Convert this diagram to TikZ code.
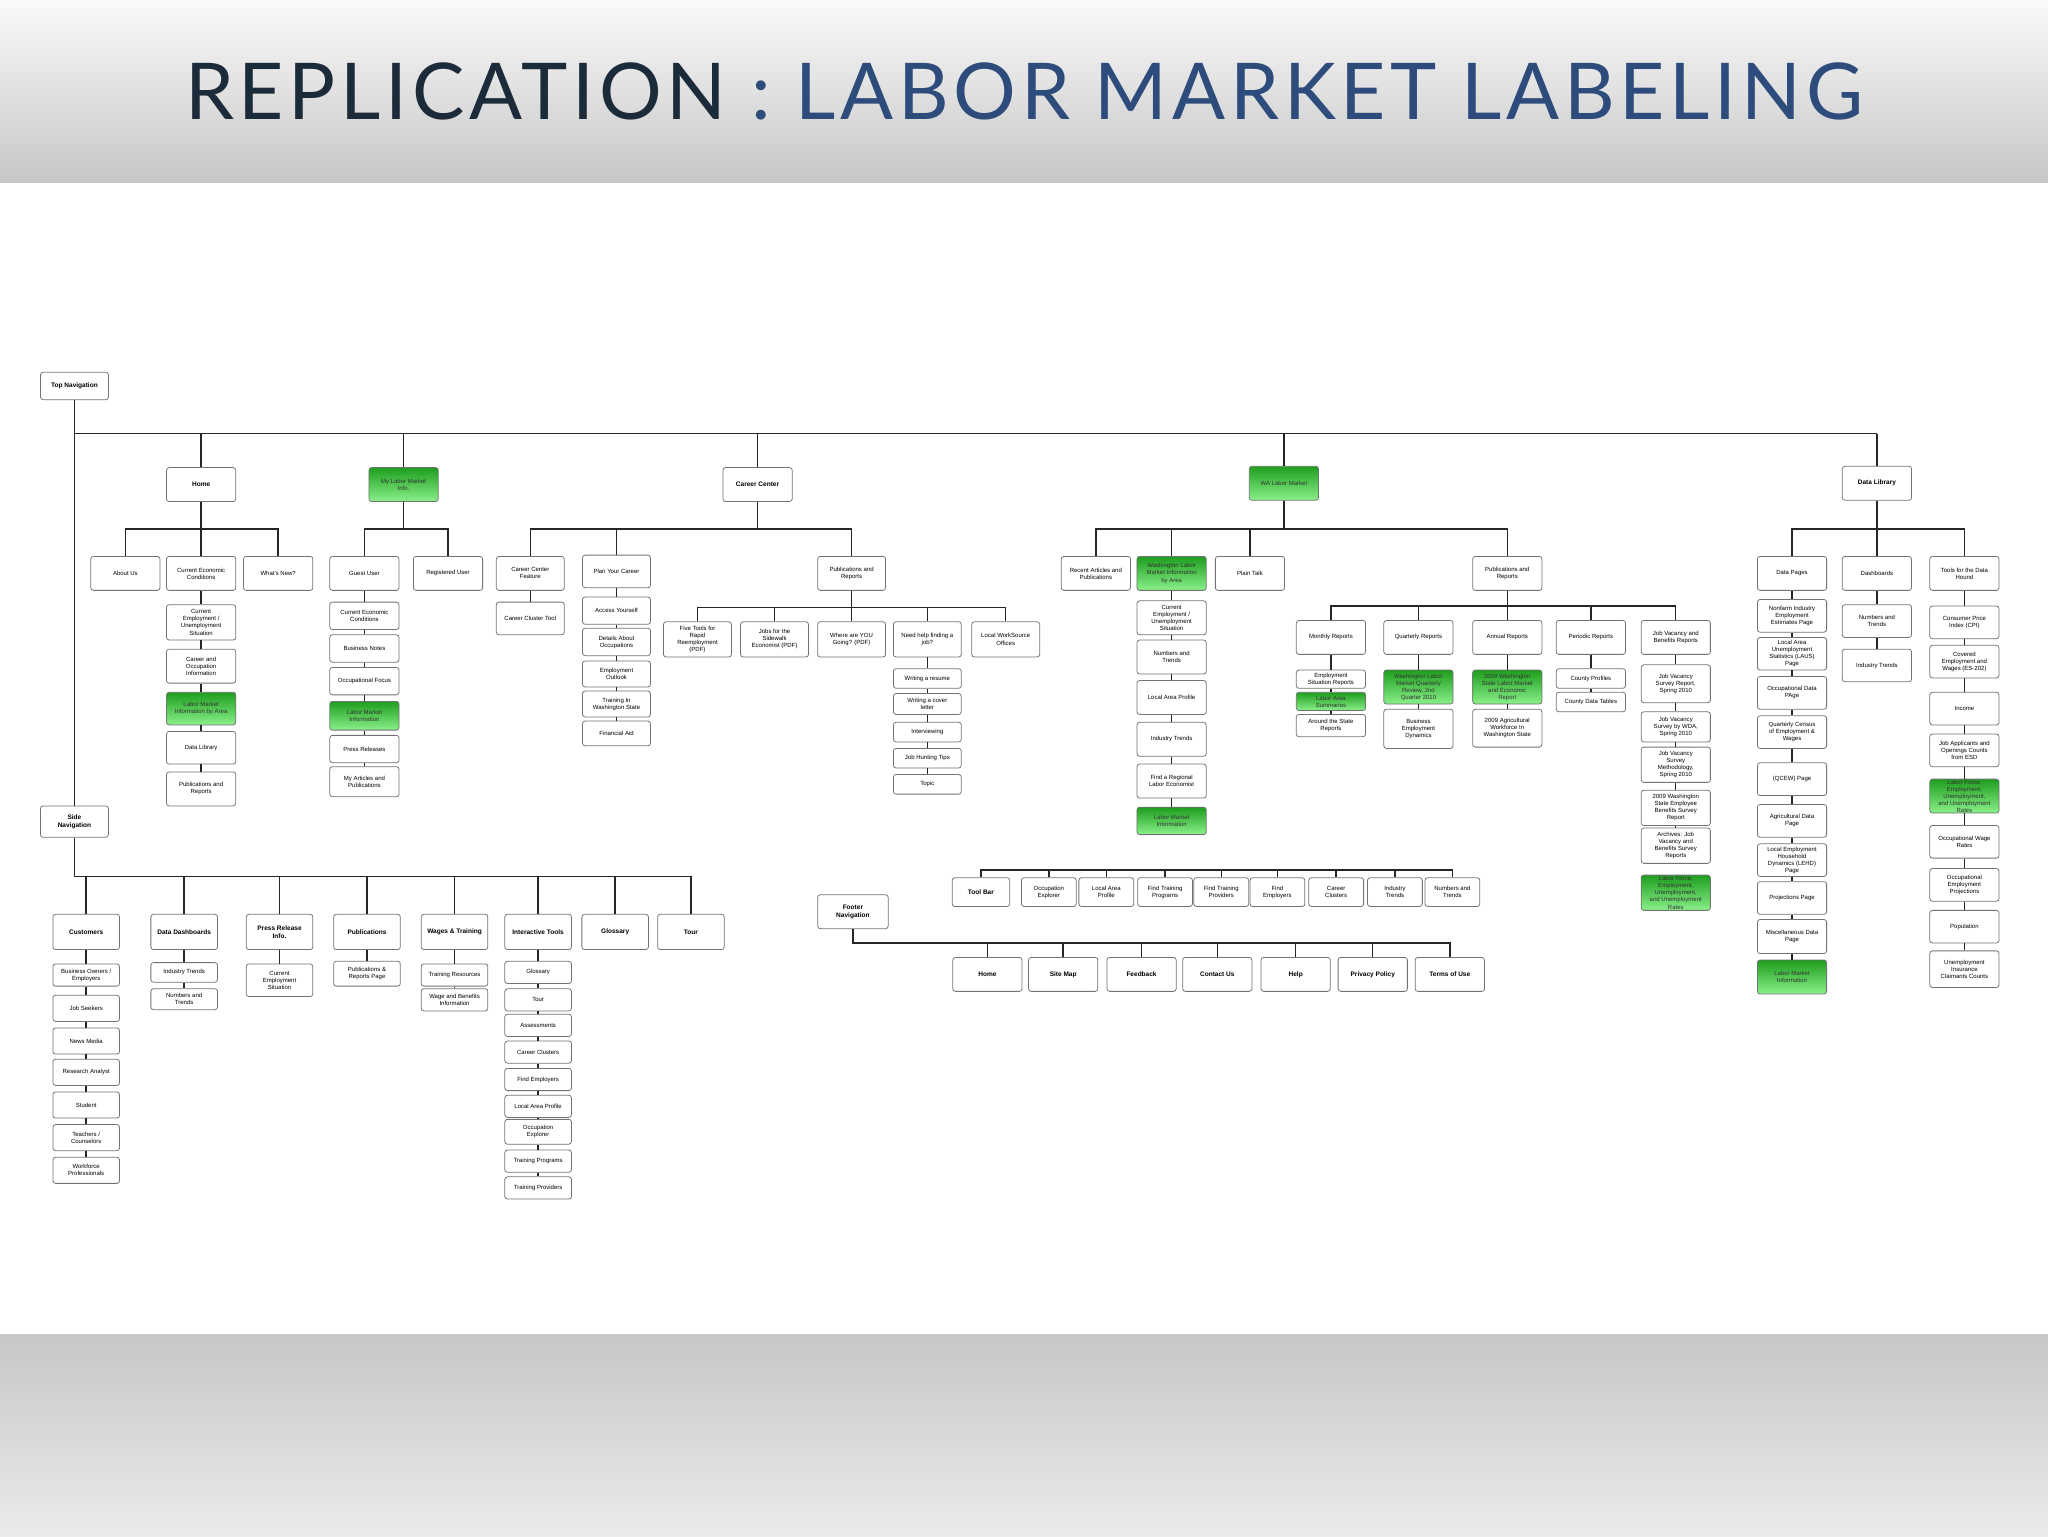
\documentclass[tikz,border=0pt]{standalone}
\usepackage{fontspec}
\setmainfont{Liberation Sans}
\newfontfamily\titlefont[LetterSpace=6]{Lato}
\definecolor{navy}{HTML}{1C2B3A}
\definecolor{tblue}{HTML}{2D4C7C}
\definecolor{gtop}{HTML}{1E9E1E}
\definecolor{gbot}{HTML}{8AF08A}
\newcommand\tr[3]{\foreach \c in {#3}{\draw[ln] (#1.south) -- (#1.south |- 0,#2) -| (\c.north);}}
\newcommand\ch[1]{\foreach \a/\b in {#1}{\draw[ln] (\a.south) -- (\b.north);}}
\tikzset{
 bx/.style 2 args={draw=black!55, rounded corners=2pt, fill=white, line width=0.6pt, minimum width=#1pt, minimum height=#2pt, inner sep=0.5pt, align=center, font=\fontsize{4.6}{5.4}\selectfont},
 hd/.style={font=\fontsize{5}{6}\selectfont\bfseries},
 gr/.style={top color=gtop, bottom color=gbot, text=black!80},
 ln/.style={line width=1.1pt, black!85},
}
\begin{document}
\begin{tikzpicture}[x=1pt,y=-1pt]
\useasboundingbox (0,0) rectangle (1568,1176);
\shade[top color=white!96!gray, bottom color=black!22] (0,0) rectangle (1568,140);
\shade[top color=black!22, bottom color=black!8] (0,1022) rectangle (1568,1176);
\node (title) at (784,70) {\titlefont\fontsize{60}{60}\selectfont\color{navy}REPLICATION \color{tblue}: LABOR MARKET LABELING};
% top
\node[bx={52}{21},hd] (top) at (57,295.5) {Top Navigation};
\node[bx={52}{24},hd] (side) at (57,629) {Side\\Navigation};
\draw[ln] (top.south) -- (side.north);
\node[bx={53}{26},hd] (home) at (154,371) {Home};
\node[bx={53}{26},gr] (mlmi) at (309,371) {My Labor Market\\Info.};
\node[bx={53}{26},hd] (cc) at (580,371) {Career Center};
\node[bx={53}{26},gr] (wa) at (983,370) {WA Labor Market};
\node[bx={53}{26},hd] (dl) at (1437,370) {Data Library};
\draw[ln] (top.south |- 0,332) -- (dl.north |- 0,332);
\foreach \n in {home,mlmi,cc,wa,dl}{\draw[ln] (\n.north) -- (\n.north |- 0,332);}
% home
\node[bx={53}{26}] (about) at (96,439) {About Us};
\node[bx={53}{26}] (hcec) at (154,439) {Current Economic\\Conditions};
\node[bx={53}{26}] (whats) at (213,439) {What's New?};
\tr{home}{405}{about,hcec,whats}
\node[bx={53}{27}] (h1) at (154,476.5) {Current\\Employment /\\Unemployment\\Situation};
\node[bx={53}{26}] (h2) at (154,510) {Career and\\Occupation\\Information};
\node[bx={53}{25},gr] (h3) at (154,542.5) {Labor Market\\Information by Area};
\node[bx={53}{25}] (h4) at (154,572.5) {Data Library};
\node[bx={53}{26}] (h5) at (154,604) {Publications and\\Reports};
\ch{hcec/h1,h1/h2,h2/h3,h3/h4,h4/h5}
% my lmi
\node[bx={53}{26}] (guest) at (279,439) {Guest User};
\node[bx={53}{26}] (reg) at (343,439) {Registered User};
\tr{mlmi}{405}{guest,reg}
\node[bx={53}{21}] (g1) at (279,471.5) {Current Economic\\Conditions};
\node[bx={53}{21}] (g2) at (279,496.5) {Business Notes};
\node[bx={53}{21}] (g3) at (279,521.5) {Occupational Focus};
\node[bx={53}{22},gr] (g4) at (279,548) {Labor Market\\Information};
\node[bx={53}{21}] (g5) at (279,573.5) {Press Releases};
\node[bx={53}{23}] (g6) at (279,598.5) {My Articles and\\Publications};
\ch{guest/g1,g1/g2,g2/g3,g3/g4,g4/g5,g5/g6}
% career center
\node[bx={52}{26}] (ccf) at (406,439) {Career Center\\Feature};
\node[bx={52}{25}] (pyc) at (472,437.5) {Plan Your Career};
\node[bx={52}{26}] (ccp) at (652,439) {Publications and\\Reports};
\tr{cc}{405}{ccf,pyc,ccp}
\node[bx={52}{25}] (cct) at (406,473.5) {Career Cluster Tool};
\ch{ccf/cct}
\node[bx={52}{21}] (p1) at (472,467.5) {Access Yourself};
\node[bx={52}{21}] (p2) at (472,491.5) {Details About\\Occupations};
\node[bx={52}{20}] (p3) at (472,516) {Employment\\Outlook};
\node[bx={52}{20}] (p4) at (472,539) {Training In\\Washington State};
\node[bx={52}{19}] (p5) at (472,561.5) {Financial Aid};
\ch{pyc/p1,p1/p2,p2/p3,p3/p4,p4/p5}
\node[bx={52}{27}] (r1) at (534,489.5) {Five Tools for\\Rapid\\Reemployment\\(PDF)};
\node[bx={52}{27}] (r2) at (593,489.5) {Jobs for the\\Sidewalk\\Economist (PDF)};
\node[bx={52}{27}] (r3) at (652,489.5) {Where are YOU\\Going? (PDF)};
\node[bx={52}{27}] (r4) at (710,489.5) {Need help finding a\\job?};
\node[bx={52}{27}] (r5) at (770,489.5) {Local WorkSource\\Offices};
\tr{ccp}{465}{r1,r2,r3,r4,r5}
\node[bx={52}{15}] (n1) at (710,519.5) {Writing a resume};
\node[bx={52}{16}] (n2) at (710,539) {Writing a cover\\letter};
\node[bx={52}{15}] (n3) at (710,560.5) {Interviewing};
\node[bx={52}{15}] (n4) at (710,580.5) {Job Hunting Tips};
\node[bx={52}{15}] (n5) at (710,600.5) {Topic};
\ch{r4/n1,n1/n2,n2/n3,n3/n4,n4/n5}
% WA labor market
\node[bx={53}{26}] (wr) at (839,439) {Recent Articles and\\Publications};
\node[bx={53}{26},gr] (wl) at (897,439) {Washington Labor\\Market Information\\by Area};
\node[bx={53}{26}] (wp) at (957,439) {Plain Talk};
\node[bx={53}{26}] (wpr) at (1154,439) {Publications and\\Reports};
\tr{wa}{405}{wr,wl,wp,wpr}
\node[bx={53}{26}] (w1) at (897,473) {Current\\Employment /\\Unemployment\\Situation};
\node[bx={53}{26}] (w2) at (897,503) {Numbers and\\Trends};
\node[bx={53}{26}] (w3) at (897,534) {Local Area Profile};
\node[bx={53}{26}] (w4) at (897,566) {Industry Trends};
\node[bx={53}{26}] (w5) at (897,598) {Find a Regional\\Labor Economist};
\node[bx={53}{21},gr] (w6) at (897,628.5) {Labor Market\\Information};
\ch{wl/w1,w1/w2,w2/w3,w3/w4,w4/w5,w5/w6}
\node[bx={53}{26}] (mr) at (1019,488) {Monthly Reports};
\node[bx={53}{26}] (qr) at (1086,488) {Quarterly Reports};
\node[bx={53}{26}] (ar) at (1154,488) {Annual Reports};
\node[bx={53}{26}] (pr) at (1218,488) {Periodic Reports};
\node[bx={53}{26}] (jv) at (1283,488) {Job Vacancy and\\Benefits Reports};
\tr{wpr}{464}{mr,qr,ar,pr,jv}
\node[bx={53}{14}] (m1) at (1019,520) {Employment\\Situation Reports};
\node[bx={53}{14},gr] (m2) at (1019,537) {Labor Area\\Summaries};
\node[bx={53}{17}] (m3) at (1019,555.5) {Around the State\\Reports};
\ch{mr/m1,m1/m2,m2/m3}
\node[bx={53}{26},gr] (q1) at (1086,526) {Washington Labor\\Market Quarterly\\Review, 2nd\\Quarter 2010};
\node[bx={53}{30}] (q2) at (1086,558) {Business\\Employment\\Dynamics};
\ch{qr/q1,q1/q2}
\node[bx={53}{26},gr] (a1) at (1154,526) {2009 Washington\\State Labor Market\\and Economic\\Report};
\node[bx={53}{29}] (a2) at (1154,557.5) {2009 Agricultural\\Workforce In\\Washington State};
\ch{ar/a1,a1/a2}
\node[bx={53}{15}] (pp1) at (1218,519.5) {County Profiles};
\node[bx={53}{15}] (pp2) at (1218,537.5) {County Data Tables};
\ch{pr/pp1,pp1/pp2}
\node[bx={53}{29}] (j1) at (1283,523.5) {Job Vacancy\\Survey Report,\\Spring 2010};
\node[bx={53}{23}] (j2) at (1283,556.5) {Job Vacancy\\Survey by WDA,\\Spring 2010};
\node[bx={53}{27}] (j3) at (1283,585.5) {Job Vacancy\\Survey\\Methodology,\\Spring 2010};
\node[bx={53}{27}] (j4) at (1283,618.5) {2009 Washington\\State Employee\\Benefits Survey\\Report};
\node[bx={53}{27}] (j5) at (1283,647.5) {Archives: Job\\Vacancy and\\Benefits Survey\\Reports};
\node[bx={53}{27},gr] (j6) at (1283,683.5) {Labor Force,\\Employment,\\Unemployment,\\and Unemployment\\Rates};
\ch{jv/j1,j1/j2,j2/j3,j3/j4,j4/j5}
% data library
\node[bx={53}{26}] (dp) at (1372,439) {Data Pages};
\node[bx={53}{26}] (db) at (1437,439) {Dashboards};
\node[bx={53}{26}] (dt) at (1504,439) {Tools for the Data\\Hound};
\tr{dl}{405}{dp,db,dt}
\node[bx={53}{25}] (d1) at (1372,471.5) {Nonfarm Industry\\Employment\\Estimates Page};
\node[bx={53}{25}] (d2) at (1372,500.5) {Local Area\\Unemployment\\Statistics (LAUS)\\Page};
\node[bx={53}{25}] (d3) at (1372,530.5) {Occupational Data\\PAge};
\node[bx={53}{25}] (d4) at (1372,560.5) {Quarterly Census\\of Employment \&\\Wages};
\node[bx={53}{25}] (d5) at (1372,596.5) {(QCEW) Page};
\node[bx={53}{25}] (d6) at (1372,628.5) {Agricultural Data\\Page};
\node[bx={53}{25}] (d7) at (1372,658.5) {Local Employment\\Household\\Dynamics (LEHD)\\Page};
\node[bx={53}{25}] (d8) at (1372,687.5) {Projections Page};
\node[bx={53}{26}] (d9) at (1372,717) {Miscellaneous Data\\Page};
\node[bx={53}{26},gr] (d10) at (1372,748) {Labor Market\\Information};
\ch{dp/d1,d1/d2,d2/d3,d3/d4,d4/d5,d5/d6,d6/d7,d7/d8,d8/d9,d9/d10}
\node[bx={53}{25}] (b1) at (1437,475.5) {Numbers and\\Trends};
\node[bx={53}{25}] (b2) at (1437,509.5) {Industry Trends};
\ch{db/b1,b1/b2}
\node[bx={53}{25}] (t1) at (1504,476.5) {Consumer Price\\Index (CPI)};
\node[bx={53}{25}] (t2) at (1504,506.5) {Covered\\Employment and\\Wages (ES-202)};
\node[bx={53}{25}] (t3) at (1504,542.5) {Income};
\node[bx={53}{25}] (t4) at (1504,574.5) {Job Applicants and\\Openings Counts\\from ESD};
\node[bx={53}{25},gr] (t5) at (1504,609.5) {Labor Force,\\Employment,\\Unemployment,\\and Unemployment\\Rates};
\node[bx={53}{25}] (t6) at (1504,644.5) {Occupational Wage\\Rates};
\node[bx={53}{25}] (t7) at (1504,677.5) {Occupational\\Employment\\Projections};
\node[bx={53}{25}] (t8) at (1504,709.5) {Population};
\node[bx={53}{28}] (t9) at (1504,742) {Unemployment\\Insurance\\Claimants Counts};
\ch{dt/t1,t1/t2,t2/t3,t3/t4,t4/t5,t5/t6,t6/t7,t7/t8,t8/t9}
% side navigation
\node[bx={51}{27},hd] (s1) at (66,713.5) {Customers};
\node[bx={51}{27},hd] (s2) at (141,713.5) {Data Dashboards};
\node[bx={51}{27},hd] (s3) at (214,713.5) {Press Release\\Info.};
\node[bx={51}{27},hd] (s4) at (281,713.5) {Publications};
\node[bx={51}{27},hd] (s5) at (348,713.5) {Wages \& Training};
\node[bx={51}{27},hd] (s6) at (412,713.5) {Interactive Tools};
\node[bx={51}{27},hd] (s7) at (471,713.5) {Glossary};
\node[bx={51}{27},hd] (s8) at (529,713.5) {Tour};
\draw[ln] (side.south) |- (s8.north |- 0,671) -- (s8.north);
\foreach \n in {s1,s2,s3,s4,s5,s6,s7}{\draw[ln] (\n.north) -- (\n.north |- 0,671);}
\node[bx={51}{17}] (c1) at (66,746.5) {Business Owners /\\Employers};
\node[bx={51}{20}] (c2) at (66,772) {Job Seekers};
\node[bx={51}{20}] (c3) at (66,797) {News Media};
\node[bx={51}{20}] (c4) at (66,821) {Research Analyst};
\node[bx={51}{20}] (c5) at (66,846) {Student};
\node[bx={51}{20}] (c6) at (66,871) {Teachers /\\Counselors};
\node[bx={51}{20}] (c7) at (66,896) {Workforce\\Professionals};
\ch{s1/c1,c1/c2,c2/c3,c3/c4,c4/c5,c5/c6,c6/c7}
\node[bx={51}{15}] (e1) at (141,744.5) {Industry Trends};
\node[bx={51}{16}] (e2) at (141,765) {Numbers and\\Trends};
\ch{s2/e1,e1/e2}
\node[bx={51}{25}] (f1) at (214,750.5) {Current\\Employment\\Situation};
\ch{s3/f1}
\node[bx={51}{19}] (u1) at (281,745.5) {Publications \&\\Reports Page};
\ch{s4/u1}
\node[bx={51}{17}] (v1) at (348,746.5) {Training Resources};
\node[bx={51}{17}] (v2) at (348,765.5) {Wage and Benefits\\Information};
\ch{s5/v1,v1/v2}
\node[bx={51}{17}] (i1) at (412,744.5) {Glossary};
\node[bx={51}{17}] (i2) at (412,765.5) {Tour};
\node[bx={51}{17}] (i3) at (412,785) {Assessments};
\node[bx={51}{17}] (i4) at (412,805.5) {Career Clusters};
\node[bx={51}{17}] (i5) at (412,826.5) {Find Employers};
\node[bx={51}{17}] (i6) at (412,847) {Local Area Profile};
\node[bx={51}{19}] (i7) at (412,866.5) {Occupation\\Explorer};
\node[bx={51}{17}] (i8) at (412,889) {Training Programs};
\node[bx={51}{17}] (i9) at (412,909.5) {Training Providers};
\ch{s6/i1,i1/i2,i2/i3,i3/i4,i4/i5,i5/i6,i6/i7,i7/i8,i8/i9}
% tool bar
\node[bx={44}{22},hd] (tbar) at (751,683) {Tool Bar};
\node[bx={42}{22}] (o1) at (803,683) {Occupation\\Explorer};
\node[bx={42}{22}] (o2) at (847,683) {Local Area\\Profile};
\node[bx={42}{22}] (o3) at (892,683) {Find Training\\Programs};
\node[bx={42}{22}] (o4) at (935,683) {Find Training\\Providers};
\node[bx={42}{22}] (o5) at (978,683) {Find\\Employers};
\node[bx={42}{22}] (o6) at (1023,683) {Career\\Clusters};
\node[bx={42}{22}] (o7) at (1068,683) {Industry\\Trends};
\node[bx={42}{22}] (o8) at (1112,683) {Numbers and\\Trends};
\draw[ln] (tbar.north) |- (o8.north |- 0,666) -- (o8.north);
\foreach \n in {o1,o2,o3,o4,o5,o6,o7}{\draw[ln] (\n.north) -- (\n.north |- 0,666);}
% footer
\node[bx={54}{26},hd] (fn) at (653,698) {Footer\\Navigation};
\node[bx={53}{26},hd] (ft1) at (756,746) {Home};
\node[bx={53}{26},hd] (ft2) at (814,746) {Site Map};
\node[bx={53}{26},hd] (ft3) at (874,746) {Feedback};
\node[bx={53}{26},hd] (ft4) at (932,746) {Contact Us};
\node[bx={53}{26},hd] (ft5) at (992,746) {Help};
\node[bx={53}{26},hd] (ft6) at (1051,746) {Privacy Policy};
\node[bx={53}{26},hd] (ft7) at (1110,746) {Terms of Use};
\draw[ln] (fn.south) |- (ft7.north |- 0,722) -- (ft7.north);
\foreach \n in {ft1,ft2,ft3,ft4,ft5,ft6}{\draw[ln] (\n.north) -- (\n.north |- 0,722);}
\end{tikzpicture}
\end{document}
